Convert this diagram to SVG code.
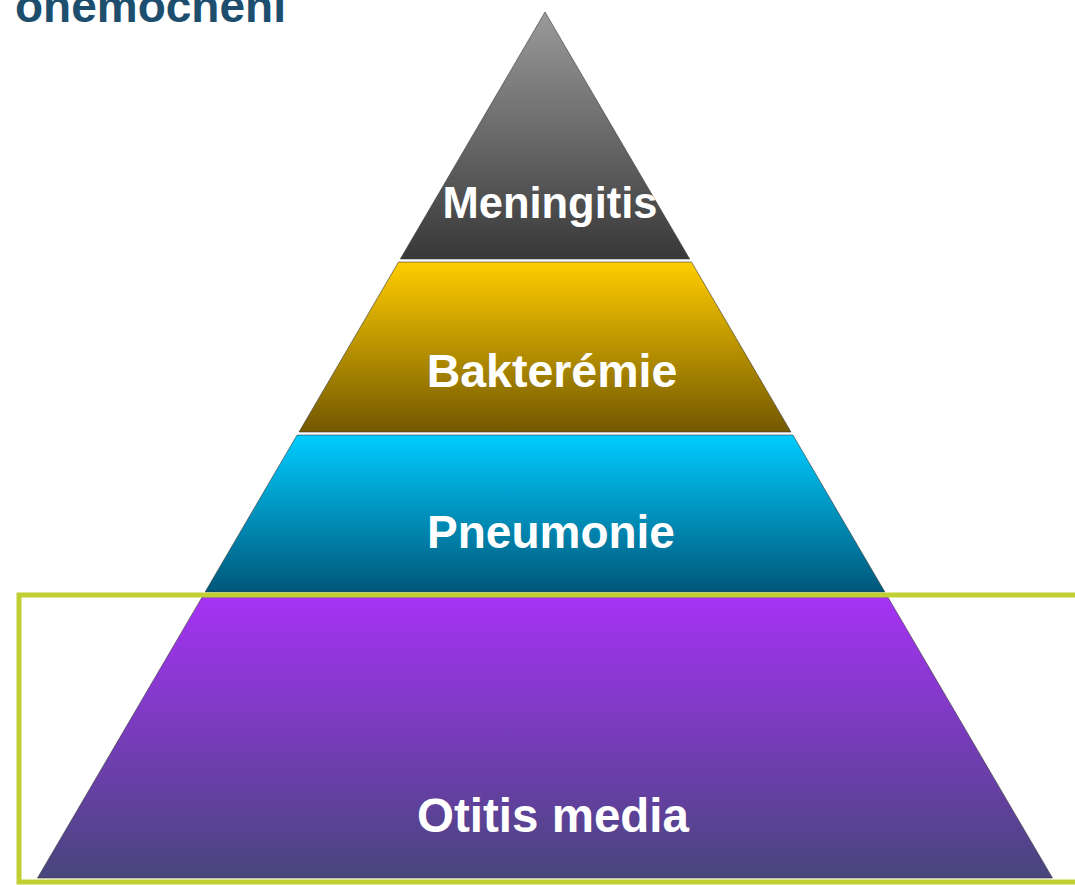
<svg xmlns="http://www.w3.org/2000/svg" width="1075" height="885" viewBox="0 0 1075 885">
<defs>
<linearGradient id="gMen" x1="0" y1="0" x2="0" y2="1"><stop offset="0" stop-color="#9a9a9a"/><stop offset="1" stop-color="#383838"/></linearGradient>
<linearGradient id="gBak" x1="0" y1="0" x2="0" y2="1"><stop offset="0" stop-color="#ffcd00"/><stop offset="1" stop-color="#735800"/></linearGradient>
<linearGradient id="gPne" x1="0" y1="0" x2="0" y2="1"><stop offset="0" stop-color="#00ccff"/><stop offset="1" stop-color="#00577a"/></linearGradient>
<linearGradient id="gOti" x1="0" y1="0" x2="0" y2="1"><stop offset="0" stop-color="#a632f5"/><stop offset="1" stop-color="#47467c"/></linearGradient>
<style>
.band{stroke:#3a3a3a;stroke-width:1;stroke-opacity:0.6}
.lbl{font-family:"Liberation Sans",Arial,sans-serif;font-weight:bold;fill:#ffffff;text-anchor:middle}
.title{font-family:"Liberation Sans",Arial,sans-serif;font-weight:bold;fill:#1d4e6e;font-size:46px}
.box{fill:none;stroke:#c0d033;stroke-width:5}
</style>
</defs>
<rect width="1075" height="885" fill="#ffffff"/>
<text class="title" x="15" y="22">onemocnění</text>
<g id="meningitis">
<polygon class="band" fill="url(#gMen)" points="545,12 689.7,259 400.3,259"/>
<text class="lbl" x="550" y="218" font-size="43.5">Meningitis</text>
</g>
<g id="bakteremie">
<polygon class="band" fill="url(#gBak)" points="398.5,262 691.5,262 791,432 299,432"/>
<text class="lbl" x="552" y="387" font-size="46.5">Bakterémie</text>
</g>
<g id="pneumonie">
<polygon class="band" fill="url(#gPne)" points="297.1,435 792.9,435 884.9,592 205.1,592"/>
<text class="lbl" x="551" y="548" font-size="46">Pneumonie</text>
</g>
<g id="otitis">
<polygon class="band" fill="url(#gOti)" points="202.2,597 887.8,597 1052.5,878 37.5,878"/>
<text class="lbl" x="553" y="832" font-size="47.5">Otitis media</text>
</g>
<g id="connectors">
<rect id="highlight" class="box" x="19" y="595" width="1070" height="287"/>
</g>
</svg>
